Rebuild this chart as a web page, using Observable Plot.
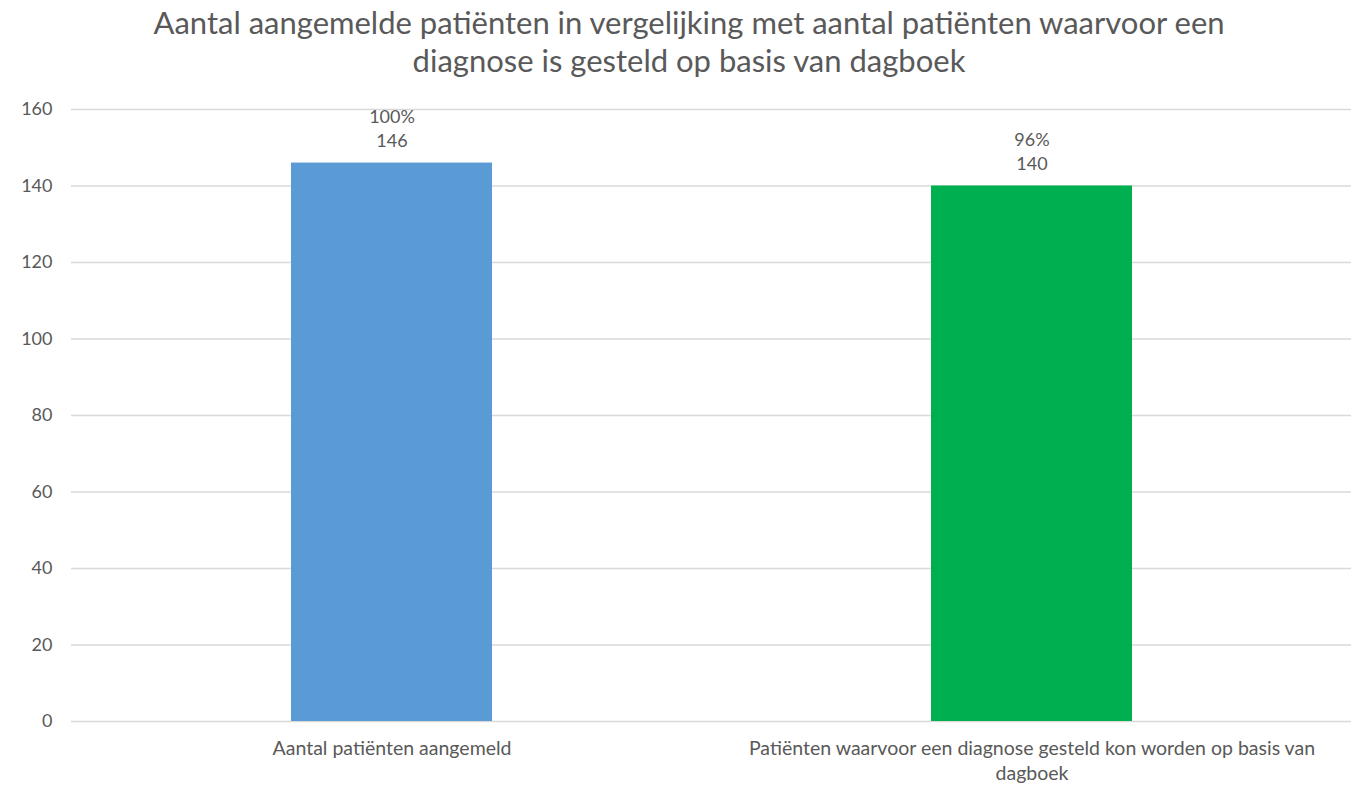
<!DOCTYPE html>
<html><head><meta charset="utf-8">
<script src="https://cdn.jsdelivr.net/npm/d3@7"></script>
<script src="https://cdn.jsdelivr.net/npm/@observablehq/plot@0.6"></script>
<style>
body{margin:0;background:#fff;font-family:Lato,sans-serif;}
#title{width:1356px;text-align:center;color:#595959;font-size:31px;line-height:38px;padding-top:3px;padding-left:22px;height:85px;box-sizing:border-box;white-space:nowrap}
</style></head><body>
<div id="title">Aantal aangemelde patiënten in vergelijking met aantal patiënten waarvoor een<br>diagnose is gesteld op basis van dagboek</div>
<div id="chart"></div>
<script>
const categories = ["Aantal patiënten aangemeld", "Patiënten waarvoor een diagnose gesteld kon worden op basis van dagboek"];
const tickLabels = ["Aantal patiënten aangemeld", "Patiënten waarvoor een diagnose gesteld kon worden op basis van\ndagboek"];
const values = [146, 140];
const percents = ["100%", "96%"];
const colors = ["#5B9BD5", "#00B050"];
const yTicks = [0, 20, 40, 60, 80, 100, 120, 140, 160];

const data = categories.map((c, i) => ({cat: c, value: values[i], pct: percents[i], color: colors[i]}));
const labelOf = new Map(categories.map((c, i) => [c, tickLabels[i]]));

const chart = Plot.plot({
  width: 1356,
  height: 700,
  marginTop: 24,
  marginBottom: 64,
  marginLeft: 71,
  marginRight: 5,
  style: {fontFamily: "Lato, sans-serif", fontSize: "18px", color: "#595959", background: "#fff"},
  x: {domain: categories, paddingInner: 0.686, paddingOuter: 0.343, axis: null},
  y: {domain: [0, 160], axis: null},
  color: {type: "identity"},
  marks: [
    Plot.gridY(yTicks, {stroke: "#d9d9d9", strokeOpacity: 1, strokeWidth: 1.5}),
    Plot.axisY(yTicks, {tickSize: 0, tickPadding: 19, fontSize: 18, fill: "#595959", label: null}),
    Plot.barY(data, {x: "cat", y: "value", fill: "color"}),
    Plot.text(data, {x: "cat", y: "value", text: d => d.pct + "\n" + d.value, lineAnchor: "bottom", dy: -16, lineHeight: 1.33, fontSize: 18, fill: "#595959"}),
    Plot.axisX(categories, {tickSize: 0, tickPadding: 16, fontSize: 19.5, fill: "#595959", lineHeight: 1.28, tickFormat: d => labelOf.get(d), label: null})
  ]
});
document.getElementById("chart").appendChild(chart);
</script>
</body></html>
